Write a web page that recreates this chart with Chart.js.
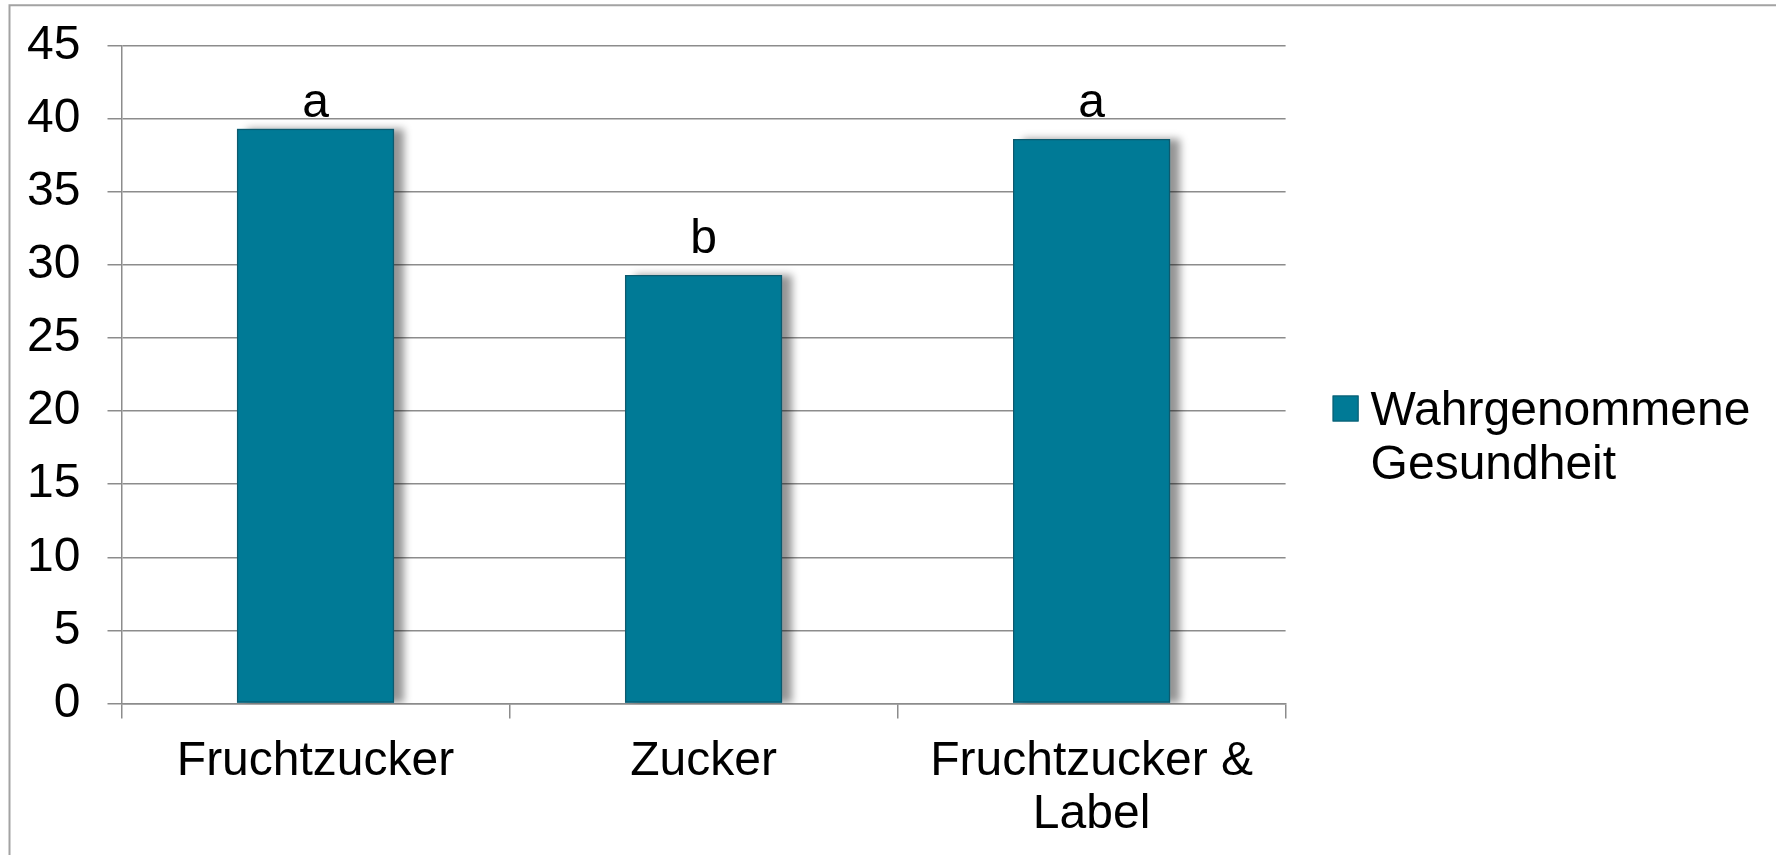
<!DOCTYPE html>
<html>
<head>
<meta charset="utf-8">
<script src="https://cdn.jsdelivr.net/npm/chart.js@4"></script>
<style>
  html, body { margin: 0; padding: 0; background: #fff; }
  #wrap { position: relative; width: 1776px; height: 855px; }
  canvas { display: block; }
</style>
</head>
<body>
<div id="wrap"><canvas id="chart" width="1776" height="855"></canvas></div>
<script>
// Categories on the x axis (the last one wraps over two lines)
const categories = ['Fruchtzucker', 'Zucker', ['Fruchtzucker &', 'Label']];
// Perceived health score per condition
const seriesName = 'Wahrgenommene Gesundheit';
const healthValues = [39.3, 29.3, 38.6];
// Significance letters and the y level their baselines sit at
const groupLetters = ['a', 'b', 'a'];
const letterLevels = [40.1, 30.8, 40.1];
// Y axis range and tick step
const yMin = 0, yMax = 45, yStep = 5;

const FONT = "'Liberation Sans', Arial, sans-serif";
const FONT_SIZE = 48;
const BAR_FILL = '#007a96';
const BAR_EDGE = '#0d5a6e';
const GRID = '#8c8c8c';

// Outer frame (top and left edges only are visible)
const framePlugin = {
  id: 'frame',
  beforeDraw(chart) {
    const ctx = chart.ctx;
    ctx.save();
    ctx.strokeStyle = '#a3a3a3';
    ctx.lineWidth = 2;
    ctx.beginPath();
    ctx.moveTo(9.5, chart.height + 2);
    ctx.lineTo(9.5, 5.3);
    ctx.lineTo(chart.width + 2, 5.3);
    ctx.stroke();
    ctx.restore();
  }
};

// Soft shadow falling to the right of each bar, painted underneath the bars
const shadowPlugin = {
  id: 'barShadow',
  beforeDatasetsDraw(chart) {
    const ctx = chart.ctx;
    const meta = chart.getDatasetMeta(0);
    const area = chart.chartArea;
    ctx.save();
    ctx.beginPath();
    ctx.rect(area.left, area.top - 20, area.right - area.left, area.bottom - area.top + 20);
    ctx.clip();
    ctx.shadowColor = 'rgba(0,0,0,0.42)';
    ctx.shadowBlur = 8;
    ctx.shadowOffsetX = 10;
    ctx.shadowOffsetY = 0;
    ctx.fillStyle = BAR_FILL;
    meta.data.forEach(bar => {
      const p = bar.getProps(['x', 'y', 'base', 'width'], true);
      ctx.fillRect(p.x - p.width / 2, p.y, p.width, p.base - p.y);
    });
    ctx.restore();
  }
};

// Letters above the bars
const letterPlugin = {
  id: 'letters',
  afterDatasetsDraw(chart) {
    const ctx = chart.ctx;
    const meta = chart.getDatasetMeta(0);
    const y = chart.scales.y;
    ctx.save();
    ctx.fillStyle = '#000';
    ctx.font = FONT_SIZE + 'px ' + FONT;
    ctx.textAlign = 'center';
    ctx.textBaseline = 'alphabetic';
    meta.data.forEach((bar, i) => {
      ctx.fillText(groupLetters[i], bar.x, y.getPixelForValue(letterLevels[i]));
    });
    ctx.restore();
  }
};

// Legend at the right, with the series name wrapped over two lines
const legendPlugin = {
  id: 'sideLegend',
  afterDraw(chart) {
    const ctx = chart.ctx;
    const area = chart.chartArea;
    const left = area.right + 47;
    const midY = (area.top + area.bottom) / 2;
    const lines = chart.data.datasets[0].label.split(' ');
    const lineH = 54;
    const firstBase = midY + 50;
    ctx.save();
    ctx.fillStyle = BAR_FILL;
    ctx.strokeStyle = BAR_EDGE;
    ctx.lineWidth = 1;
    const sq = 26;
    ctx.fillRect(left, firstBase - 29, sq, sq);
    ctx.strokeRect(left + 0.5, firstBase - 29 + 0.5, sq - 1, sq - 1);
    ctx.fillStyle = '#000';
    ctx.font = FONT_SIZE + 'px ' + FONT;
    ctx.textAlign = 'left';
    ctx.textBaseline = 'alphabetic';
    lines.forEach((t, i) => ctx.fillText(t, left + 38, firstBase + i * lineH));
    ctx.restore();
  }
};

new Chart(document.getElementById('chart'), {
  type: 'bar',
  data: {
    labels: categories,
    datasets: [{
      label: seriesName,
      data: healthValues,
      backgroundColor: BAR_FILL,
      borderColor: BAR_EDGE,
      borderWidth: 1.5,
      borderSkipped: false,
      barPercentage: 0.405,
      categoryPercentage: 1
    }]
  },
  options: {
    responsive: false,
    animation: false,
    devicePixelRatio: 1,
    layout: { padding: { left: 0, right: 490.4, top: 45.5, bottom: 0 } },
    plugins: {
      legend: { display: false },
      tooltip: { enabled: false }
    },
    scales: {
      x: {
        afterFit(scale) {
          scale.height = 151.5;
          scale.paddingLeft = 0;
          scale.paddingRight = 0;
        },
        grid: {
          offset: true,
          drawOnChartArea: false,
          drawTicks: true,
          tickLength: 15,
          color: GRID,
          lineWidth: 1.5
        },
        border: { display: true, color: GRID, width: 1.5 },
        ticks: {
          color: '#000',
          padding: 16,
          font: { family: FONT, size: FONT_SIZE, lineHeight: 1.12 },
          maxRotation: 0,
          autoSkip: false
        }
      },
      y: {
        min: yMin,
        max: yMax,
        afterFit(scale) {
          scale.width = 121.5;
          scale.paddingTop = 0;
          scale.paddingBottom = 0;
        },
        grid: {
          drawOnChartArea: true,
          drawTicks: true,
          tickLength: 14,
          color: GRID,
          lineWidth: 1.5
        },
        border: { display: true, color: GRID, width: 1.5 },
        ticks: {
          stepSize: yStep,
          color: '#000',
          padding: 27,
          font: { family: FONT, size: FONT_SIZE }
        }
      }
    }
  },
  plugins: [framePlugin, shadowPlugin, letterPlugin, legendPlugin]
});
</script>
</body>
</html>
